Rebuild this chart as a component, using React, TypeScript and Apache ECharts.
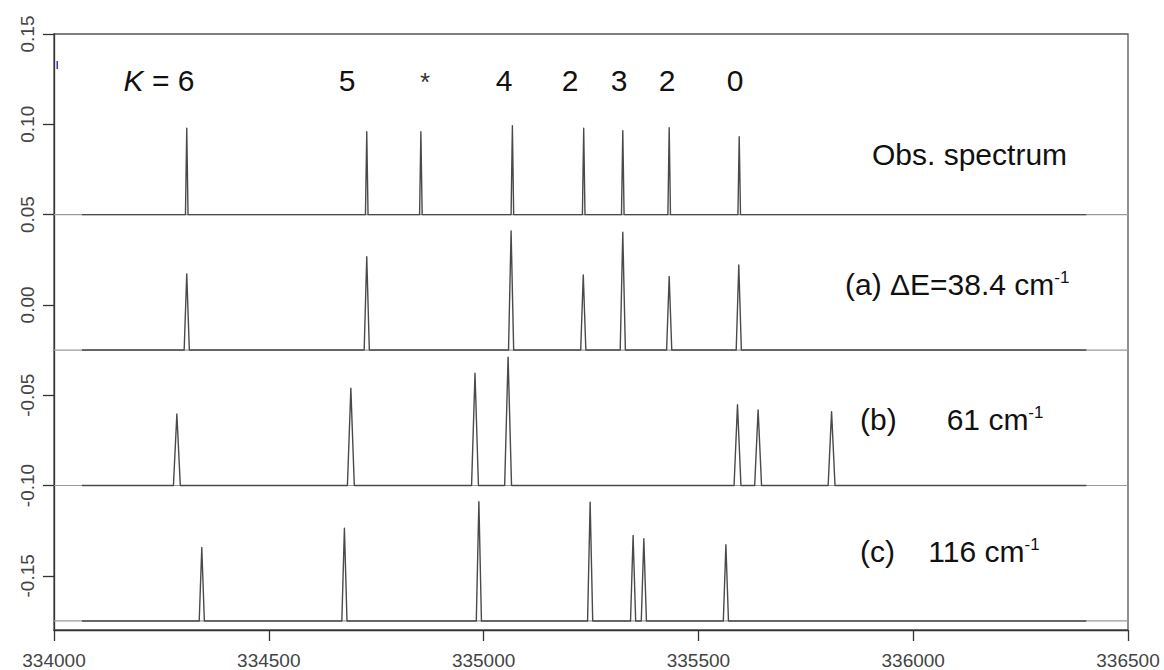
import React, { useEffect, useRef } from "react";
import * as echarts from "echarts";

// ---- data ----
const xTickLabels = ["334000", "334500", "335000", "335500", "336000", "336500"];
const yTickValues = [-0.15, -0.1, -0.05, 0, 0.05, 0.1, 0.15];

const spectrumStart = 334065;
const spectrumEnd = 336403;

const baselines = [0.05, -0.025, -0.1, -0.175];

const obsPeakX = [334309, 334728, 334854, 335067, 335233, 335324, 335432, 335595];
const obsPeakY = [0.0978, 0.0959, 0.0959, 0.0992, 0.0978, 0.0965, 0.0981, 0.0932];

const aPeakX = [334309, 334728, 335064, 335232, 335324, 335432, 335594];
const aPeakY = [0.0172, 0.0267, 0.041, 0.0166, 0.0402, 0.0157, 0.0221];

const bPeakX = [334286, 334691, 334980, 335057, 335591, 335639, 335810];
const bPeakY = [-0.0604, -0.0461, -0.0378, -0.0289, -0.0553, -0.0581, -0.0591];

const cPeakX = [334344, 334676, 334989, 335248, 335348, 335373, 335564];
const cPeakY = [-0.1343, -0.1236, -0.1089, -0.1092, -0.1277, -0.1295, -0.1328];

// half widths of the line shapes (in cm^-1 units)
const peakHalfWidths = [3, 6, 8, 6];

const kLabels = ["5", "*", "4", "2", "3", "2", "0"];

const FONT = "'Liberation Sans', Arial, Helvetica, sans-serif";

function buildSpectrum(base: number, xs: number[], ys: number[], hw: number) {
  const pts: number[][] = [[spectrumStart, base]];
  xs.forEach((x, i) => {
    pts.push([x - hw, base]);
    pts.push([x, ys[i]]);
    pts.push([x + hw, base]);
  });
  pts.push([spectrumEnd, base]);
  return pts;
}

export default function App() {
  const ref = useRef<HTMLDivElement>(null);

  useEffect(() => {
    if (!ref.current) return;
    const chart = echarts.init(ref.current, undefined, { renderer: "svg" });

    const peakSets = [
      [obsPeakX, obsPeakY],
      [aPeakX, aPeakY],
      [bPeakX, bPeakY],
      [cPeakX, cPeakY],
    ];

    const baseSeries = baselines.map((b) => ({
      type: "line",
      data: [
        [334000, b],
        [336500, b],
      ],
      symbol: "none",
      lineStyle: { color: "#9a9a9a", width: 1.2 },
      z: 1,
      silent: true,
    }));

    const specSeries = peakSets.map((ps, i) => ({
      type: "line",
      data: buildSpectrum(baselines[i], ps[0], ps[1], peakHalfWidths[i]),
      symbol: "none",
      lineStyle: { color: "#4a4a4a", width: 1.4, join: "round" },
      z: 3,
      silent: true,
    }));

    const labelY = 80;
    const kX = [347, 425, 504, 570, 619, 667, 735];
    const textStyleBase = { fontFamily: FONT, fontSize: 30, fill: "#111" };

    const graphics: any[] = [
      {
        type: "text",
        x: 159,
        y: labelY,
        style: {
          ...textStyleBase,
          text: "{i|K} = 6",
          align: "center",
          verticalAlign: "middle",
          rich: {
            i: { fontStyle: "italic", fontFamily: FONT, fontSize: 30, fill: "#111" },
          },
        },
      },
      ...kLabels.map((t, i) => ({
        type: "text",
        x: kX[i],
        y: t === "*" ? labelY + 2 : labelY,
        style: {
          ...textStyleBase,
          fontSize: t === "*" ? 26 : 30,
          fill: t === "*" ? "#333" : "#111",
          text: t,
          align: "center",
          verticalAlign: "middle",
        },
      })),
      {
        type: "text",
        x: 872,
        y: 154,
        style: { ...textStyleBase, text: "Obs. spectrum", align: "left", verticalAlign: "middle" },
      },
      {
        type: "text",
        x: 845,
        y: 284,
        style: {
          ...textStyleBase,
          text: "{m|(a) ΔE=38.4 cm}{s|-1}",
          align: "left",
          verticalAlign: "middle",
          rich: {
            m: { fontFamily: FONT, fontSize: 30, fill: "#111", verticalAlign: "bottom" },
            s: { fontFamily: FONT, fontSize: 17, fill: "#111", verticalAlign: "top" },
          },
        },
      },
      {
        type: "text",
        x: 860,
        y: 419,
        style: {
          ...textStyleBase,
          text: "{m|(b)      61 cm}{s|-1}",
          align: "left",
          verticalAlign: "middle",
          rich: {
            m: { fontFamily: FONT, fontSize: 30, fill: "#111", verticalAlign: "bottom" },
            s: { fontFamily: FONT, fontSize: 17, fill: "#111", verticalAlign: "top" },
          },
        },
      },
      {
        type: "text",
        x: 860,
        y: 551,
        style: {
          ...textStyleBase,
          text: "{m|(c)    116 cm}{s|-1}",
          align: "left",
          verticalAlign: "middle",
          rich: {
            m: { fontFamily: FONT, fontSize: 30, fill: "#111", verticalAlign: "bottom" },
            s: { fontFamily: FONT, fontSize: 17, fill: "#111", verticalAlign: "top" },
          },
        },
      },
      {
        type: "rect",
        shape: { x: 56.5, y: 61, width: 1.5, height: 8 },
        style: { fill: "#3a3ab8" },
      },
    ];

    chart.setOption({
      animation: false,
      backgroundColor: "#ffffff",
      grid: {
        left: 54,
        right: 36,
        top: 34,
        bottom: 40,
        show: true,
        borderColor: "#555",
        borderWidth: 1.3,
        containLabel: false,
        outerBoundsMode: "none",
      },
      xAxis: {
        type: "value",
        min: 334000,
        max: 336500,
        interval: 500,
        axisLine: { show: true, onZero: false, lineStyle: { color: "#333", width: 1.3 } },
        axisTick: { show: true, length: 11, lineStyle: { color: "#333", width: 1.3 } },
        axisLabel: {
          fontSize: 19,
          color: "#444",
          margin: 21,
          fontFamily: FONT,
          formatter: (v: number) => {
            const s = String(Math.round(v));
            return xTickLabels.includes(s) ? s : "";
          },
        },
        splitLine: { show: false },
      },
      yAxis: {
        type: "value",
        min: -0.18,
        max: 0.15,
        axisLine: { show: true, onZero: false, lineStyle: { color: "#333", width: 1.3 } },
        axisTick: {
          show: true,
          length: 11,
          customValues: yTickValues,
          lineStyle: { color: "#333", width: 1.3 },
        },
        axisLabel: {
          fontSize: 19,
          color: "#444",
          margin: 17,
          rotate: 90,
          fontFamily: FONT,
          customValues: yTickValues,
          formatter: (v: number) => v.toFixed(2),
        },
        splitLine: { show: false },
      },
      series: [...baseSeries, ...specSeries],
      graphic: graphics,
    });

    return () => {
      chart.dispose();
    };
  }, []);

  return (
    <div
      ref={ref}
      style={{ position: "fixed", left: 0, top: 0, width: 1164, height: 670, background: "#fff" }}
    />
  );
}
